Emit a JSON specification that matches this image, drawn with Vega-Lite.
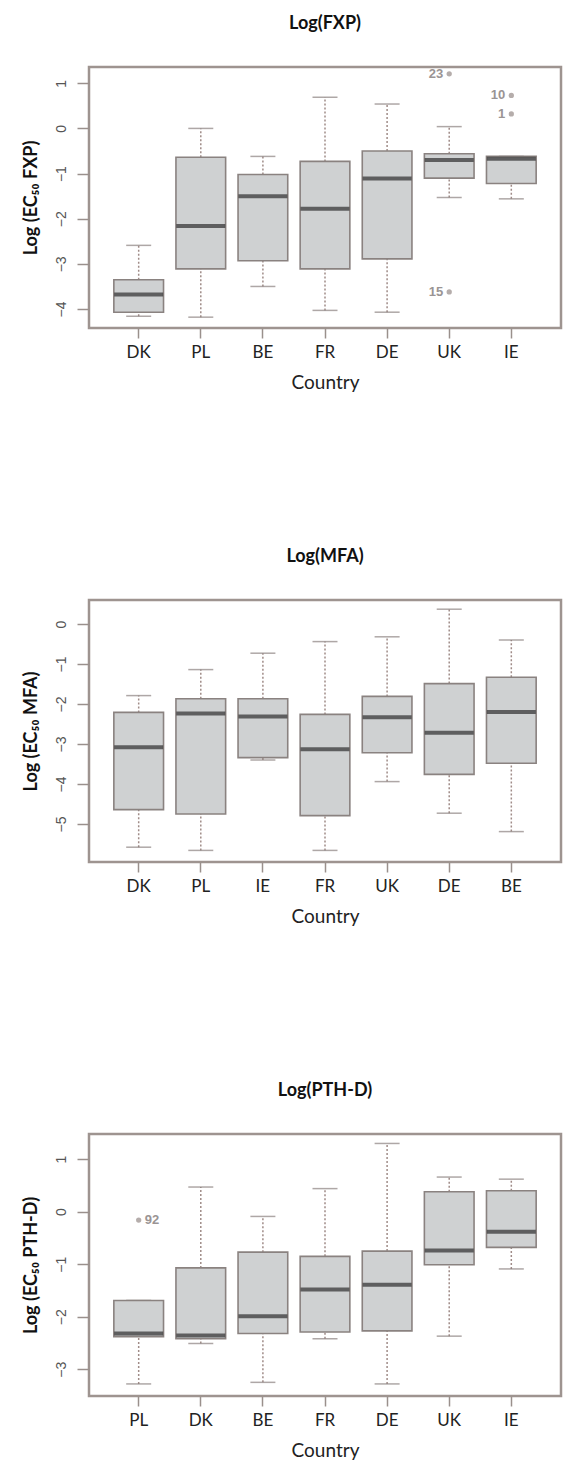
{
  "$schema": "https://vega.github.io/schema/vega-lite/v6.json",
  "background": "white",
  "padding": {"left": 20, "top": 13, "right": 0, "bottom": 0},
  "datasets": {
    "fxp": [
      {"country": "DK", "lo": -4.16, "q1": -4.07, "med": -3.68, "q3": -3.35, "hi": -2.59},
      {"country": "PL", "lo": -4.18, "q1": -3.11, "med": -2.16, "q3": -0.64, "hi": 0.0},
      {"country": "BE", "lo": -3.50, "q1": -2.93, "med": -1.50, "q3": -1.02, "hi": -0.62},
      {"country": "FR", "lo": -4.03, "q1": -3.11, "med": -1.78, "q3": -0.73, "hi": 0.69},
      {"country": "DE", "lo": -4.07, "q1": -2.89, "med": -1.11, "q3": -0.50, "hi": 0.54},
      {"country": "UK", "lo": -1.53, "q1": -1.10, "med": -0.70, "q3": -0.56, "hi": 0.04},
      {"country": "IE", "lo": -1.56, "q1": -1.22, "med": -0.67, "q3": -0.62, "hi": -0.62}
    ],
    "fxp_out": [
      {"country": "UK", "value": 1.21, "label": "23"},
      {"country": "IE", "value": 0.73, "label": "10"},
      {"country": "IE", "value": 0.32, "label": "1"},
      {"country": "UK", "value": -3.62, "label": "15"}
    ],
    "mfa": [
      {"country": "DK", "lo": -5.58, "q1": -4.64, "med": -3.08, "q3": -2.21, "hi": -1.79},
      {"country": "PL", "lo": -5.66, "q1": -4.75, "med": -2.24, "q3": -1.87, "hi": -1.14},
      {"country": "IE", "lo": -3.40, "q1": -3.34, "med": -2.31, "q3": -1.87, "hi": -0.73},
      {"country": "FR", "lo": -5.66, "q1": -4.79, "med": -3.13, "q3": -2.26, "hi": -0.44},
      {"country": "UK", "lo": -3.94, "q1": -3.22, "med": -2.33, "q3": -1.81, "hi": -0.32},
      {"country": "DE", "lo": -4.73, "q1": -3.76, "med": -2.72, "q3": -1.49, "hi": 0.37},
      {"country": "BE", "lo": -5.19, "q1": -3.48, "med": -2.20, "q3": -1.33, "hi": -0.40}
    ],
    "pth": [
      {"country": "PL", "lo": -3.28, "q1": -2.38, "med": -2.32, "q3": -1.69, "hi": -1.69},
      {"country": "DK", "lo": -2.51, "q1": -2.42, "med": -2.36, "q3": -1.07, "hi": 0.47},
      {"country": "BE", "lo": -3.25, "q1": -2.32, "med": -1.99, "q3": -0.77, "hi": -0.09},
      {"country": "FR", "lo": -2.42, "q1": -2.29, "med": -1.48, "q3": -0.85, "hi": 0.44},
      {"country": "DE", "lo": -3.28, "q1": -2.27, "med": -1.39, "q3": -0.75, "hi": 1.30},
      {"country": "UK", "lo": -2.37, "q1": -1.01, "med": -0.74, "q3": 0.38, "hi": 0.66},
      {"country": "IE", "lo": -1.09, "q1": -0.68, "med": -0.38, "q3": 0.40, "hi": 0.62}
    ],
    "pth_out": [
      {"country": "PL", "value": -0.16, "label": "92"}
    ]
  },
  "config": {
    "font": "Lato",
    "view": {"stroke": "#9e9490", "strokeWidth": 2.5},
    "title": {"fontSize": 18, "fontWeight": "bold", "color": "#111", "offset": 34, "font": "Lato"},
    "concat": {"spacing": 152},
    "axisX": {"domain": false, "grid": false, "tickSize": 10, "tickColor": "#9a908c", "tickWidth": 1.5, "labelFontSize": 17, "labelColor": "#222", "labelPadding": 6, "labelAngle": 0, "titleFontSize": 19, "titleFontWeight": "normal", "titleColor": "#222", "titlePadding": 13},
    "axisY": {"domain": false, "grid": false, "tickSize": 12, "tickColor": "#9a908c", "tickWidth": 1.5, "labelAngle": 270, "labelAlign": "center", "labelBaseline": "bottom", "labelFontSize": 14, "labelFont": "Liberation Sans", "labelColor": "#555", "labelPadding": 9, "titleFontSize": 18, "titleFontWeight": "bold", "titleColor": "#111", "titlePadding": 14}
  },
  "vconcat": [
    {
      "width": 472, "height": 261,
      "title": "Log(FXP)",
      "data": {"name": "fxp"},
      "layer": [
        {"mark": {"type": "rule", "color": "#a08c88", "strokeWidth": 1.5, "strokeDash": [2, 2]},
         "encoding": {"x": {"field": "country", "type": "nominal", "title": "Country", "scale": {"domain": ["DK","PL","BE","FR","DE","UK","IE"], "paddingOuter": 0.3, "paddingInner": 0}},
                      "y": {"field": "lo", "type": "quantitative", "title": "Log (EC₅₀ FXP)", "scale": {"domain": [-4.42, 1.36], "nice": false, "zero": false}, "axis": {"values": [-4,-3,-2,-1,0,1]}},
                      "y2": {"field": "q1"}}},
        {"mark": {"type": "rule", "color": "#a08c88", "strokeWidth": 1.5, "strokeDash": [2, 2]},
         "encoding": {"x": {"field": "country", "type": "nominal", "title": "Country"}, "y": {"field": "q3", "type": "quantitative", "title": "Log (EC₅₀ FXP)"}, "y2": {"field": "hi"}}},
        {"mark": {"type": "tick", "color": "#8c8280", "size": 25, "thickness": 1.5},
         "encoding": {"x": {"field": "country", "type": "nominal", "title": "Country"}, "y": {"field": "lo", "type": "quantitative", "title": "Log (EC₅₀ FXP)"}}},
        {"mark": {"type": "tick", "color": "#8c8280", "size": 25, "thickness": 1.5},
         "encoding": {"x": {"field": "country", "type": "nominal", "title": "Country"}, "y": {"field": "hi", "type": "quantitative", "title": "Log (EC₅₀ FXP)"}}},
        {"mark": {"type": "bar", "fill": "#cfd1d2", "stroke": "#8a8280", "strokeWidth": 1.6, "width": {"band": 0.8}},
         "encoding": {"x": {"field": "country", "type": "nominal", "title": "Country"}, "y": {"field": "q1", "type": "quantitative", "title": "Log (EC₅₀ FXP)"}, "y2": {"field": "q3"}}},
        {"mark": {"type": "tick", "color": "#2e2e2e", "size": 49, "thickness": 4},
         "encoding": {"x": {"field": "country", "type": "nominal", "title": "Country"}, "y": {"field": "med", "type": "quantitative", "title": "Log (EC₅₀ FXP)"}}},
        {"data": {"name": "fxp_out"},
         "mark": {"type": "point", "filled": true, "size": 28, "color": "#b5adab", "opacity": 1},
         "encoding": {"x": {"field": "country", "type": "nominal", "title": "Country"}, "y": {"field": "value", "type": "quantitative", "title": "Log (EC₅₀ FXP)"}}},
        {"data": {"name": "fxp_out"},
         "mark": {"type": "text", "align": "right", "dx": -6, "fontSize": 13, "fontWeight": "bold", "font": "Liberation Sans", "color": "#9a9494"},
         "encoding": {"x": {"field": "country", "type": "nominal", "title": "Country"}, "y": {"field": "value", "type": "quantitative", "title": "Log (EC₅₀ FXP)"}, "text": {"field": "label"}}}
      ]
    },
    {
      "width": 472, "height": 262,
      "title": "Log(MFA)",
      "data": {"name": "mfa"},
      "layer": [
        {"mark": {"type": "rule", "color": "#a08c88", "strokeWidth": 1.5, "strokeDash": [2, 2]},
         "encoding": {"x": {"field": "country", "type": "nominal", "title": "Country", "scale": {"domain": ["DK","PL","IE","FR","UK","DE","BE"], "paddingOuter": 0.3, "paddingInner": 0}},
                      "y": {"field": "lo", "type": "quantitative", "title": "Log (EC₅₀ MFA)", "scale": {"domain": [-5.95, 0.6], "nice": false, "zero": false}, "axis": {"values": [-5,-4,-3,-2,-1,0]}},
                      "y2": {"field": "q1"}}},
        {"mark": {"type": "rule", "color": "#a08c88", "strokeWidth": 1.5, "strokeDash": [2, 2]},
         "encoding": {"x": {"field": "country", "type": "nominal", "title": "Country"}, "y": {"field": "q3", "type": "quantitative", "title": "Log (EC₅₀ MFA)"}, "y2": {"field": "hi"}}},
        {"mark": {"type": "tick", "color": "#8c8280", "size": 25, "thickness": 1.5},
         "encoding": {"x": {"field": "country", "type": "nominal", "title": "Country"}, "y": {"field": "lo", "type": "quantitative", "title": "Log (EC₅₀ MFA)"}}},
        {"mark": {"type": "tick", "color": "#8c8280", "size": 25, "thickness": 1.5},
         "encoding": {"x": {"field": "country", "type": "nominal", "title": "Country"}, "y": {"field": "hi", "type": "quantitative", "title": "Log (EC₅₀ MFA)"}}},
        {"mark": {"type": "bar", "fill": "#cfd1d2", "stroke": "#8a8280", "strokeWidth": 1.6, "width": {"band": 0.8}},
         "encoding": {"x": {"field": "country", "type": "nominal", "title": "Country"}, "y": {"field": "q1", "type": "quantitative", "title": "Log (EC₅₀ MFA)"}, "y2": {"field": "q3"}}},
        {"mark": {"type": "tick", "color": "#2e2e2e", "size": 49, "thickness": 4},
         "encoding": {"x": {"field": "country", "type": "nominal", "title": "Country"}, "y": {"field": "med", "type": "quantitative", "title": "Log (EC₅₀ MFA)"}}}
      ]
    },
    {
      "width": 472, "height": 262,
      "title": "Log(PTH-D)",
      "data": {"name": "pth"},
      "layer": [
        {"mark": {"type": "rule", "color": "#a08c88", "strokeWidth": 1.5, "strokeDash": [2, 2]},
         "encoding": {"x": {"field": "country", "type": "nominal", "title": "Country", "scale": {"domain": ["PL","DK","BE","FR","DE","UK","IE"], "paddingOuter": 0.3, "paddingInner": 0}},
                      "y": {"field": "lo", "type": "quantitative", "title": "Log (EC₅₀ PTH-D)", "scale": {"domain": [-3.51, 1.48], "nice": false, "zero": false}, "axis": {"values": [-3,-2,-1,0,1]}},
                      "y2": {"field": "q1"}}},
        {"mark": {"type": "rule", "color": "#a08c88", "strokeWidth": 1.5, "strokeDash": [2, 2]},
         "encoding": {"x": {"field": "country", "type": "nominal", "title": "Country"}, "y": {"field": "q3", "type": "quantitative", "title": "Log (EC₅₀ PTH-D)"}, "y2": {"field": "hi"}}},
        {"mark": {"type": "tick", "color": "#8c8280", "size": 25, "thickness": 1.5},
         "encoding": {"x": {"field": "country", "type": "nominal", "title": "Country"}, "y": {"field": "lo", "type": "quantitative", "title": "Log (EC₅₀ PTH-D)"}}},
        {"mark": {"type": "tick", "color": "#8c8280", "size": 25, "thickness": 1.5},
         "encoding": {"x": {"field": "country", "type": "nominal", "title": "Country"}, "y": {"field": "hi", "type": "quantitative", "title": "Log (EC₅₀ PTH-D)"}}},
        {"mark": {"type": "bar", "fill": "#cfd1d2", "stroke": "#8a8280", "strokeWidth": 1.6, "width": {"band": 0.8}},
         "encoding": {"x": {"field": "country", "type": "nominal", "title": "Country"}, "y": {"field": "q1", "type": "quantitative", "title": "Log (EC₅₀ PTH-D)"}, "y2": {"field": "q3"}}},
        {"mark": {"type": "tick", "color": "#2e2e2e", "size": 49, "thickness": 4},
         "encoding": {"x": {"field": "country", "type": "nominal", "title": "Country"}, "y": {"field": "med", "type": "quantitative", "title": "Log (EC₅₀ PTH-D)"}}},
        {"data": {"name": "pth_out"},
         "mark": {"type": "point", "filled": true, "size": 28, "color": "#b5adab", "opacity": 1},
         "encoding": {"x": {"field": "country", "type": "nominal", "title": "Country"}, "y": {"field": "value", "type": "quantitative", "title": "Log (EC₅₀ PTH-D)"}}},
        {"data": {"name": "pth_out"},
         "mark": {"type": "text", "align": "left", "dx": 6, "fontSize": 13, "fontWeight": "bold", "font": "Liberation Sans", "color": "#9a9494"},
         "encoding": {"x": {"field": "country", "type": "nominal", "title": "Country"}, "y": {"field": "value", "type": "quantitative", "title": "Log (EC₅₀ PTH-D)"}, "text": {"field": "label"}}}
      ]
    }
  ]
}
